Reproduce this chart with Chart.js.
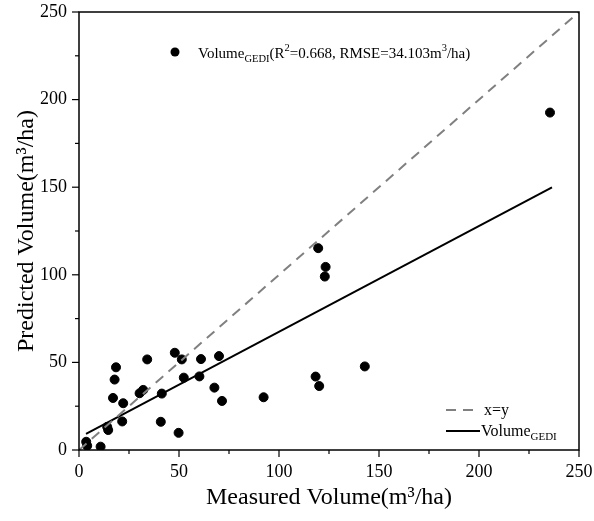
<!DOCTYPE html>
<html>
<head>
<meta charset="utf-8">
<script src="https://cdn.jsdelivr.net/npm/chart.js@4"></script>
<style>
  body { margin: 0; background: #fff; }
  #wrap { width: 594px; height: 521px; }
</style>
</head>
<body>
<div id="wrap"><canvas id="grafico"></canvas></div>
<script>
// Datos
const measured = [3.6, 4.1, 10.8, 14.1, 14.6, 17.0, 17.8, 18.5, 22.1, 21.6, 30.3, 32.1, 34.1, 41.4, 40.9, 47.9,
    51.4, 49.8, 52.4, 60.2, 61.0, 70.0, 67.7, 71.5, 92.3, 119.6, 123.3, 122.9, 142.9, 118.3, 120.1, 235.5];
const predicted = [4.7, 2.4, 1.9, 13.2, 11.4, 29.7, 40.2, 47.2, 26.7, 16.3, 32.4, 34.3, 51.7, 32.2, 16.1, 55.5,
    51.7, 9.8, 41.3, 42.0, 51.9, 53.6, 35.6, 28.0, 30.1, 115.2, 104.5, 99.0, 47.7, 41.9, 36.5, 192.6];
const fitX = [3.5, 236.5];
const fitSlope = 0.604;
const fitIntercept = 7.1;
const identityX = [0, 250];
const xTicks = [0, 50, 100, 150, 200, 250];
const yTicks = [0, 50, 100, 150, 200, 250];

const serif = "'Liberation Serif', 'Times New Roman', serif";

const puntos = measured.map((x, i) => ({ x: x, y: predicted[i] }));
const ajuste = fitX.map((x) => ({ x: x, y: fitSlope * x + fitIntercept }));
const identidad = identityX.map((x) => ({ x: x, y: x }));

// Marco, marcas de ejes y leyendas
const marco = {
    id: 'marco',
    afterDraw(chart) {
        const c = chart.ctx;
        const a = chart.chartArea;
        const sx = chart.scales.x;
        const sy = chart.scales.y;
        c.save();
        c.strokeStyle = '#000';
        c.lineWidth = 1.5;
        c.strokeRect(a.left, a.top, a.right - a.left, a.bottom - a.top);
        c.lineWidth = 1.2;
        for (let v = 0; v <= 250; v += 25) {
            const len = v % 50 === 0 ? 7 : 4;
            const px = sx.getPixelForValue(v);
            c.beginPath();
            c.moveTo(px, a.bottom);
            c.lineTo(px, a.bottom + len);
            c.stroke();
            const py = sy.getPixelForValue(v);
            c.beginPath();
            c.moveTo(a.left, py);
            c.lineTo(a.left - len, py);
            c.stroke();
        }

        // leyenda superior
        c.fillStyle = '#000';
        c.beginPath();
        c.arc(175, 52, 4.5, 0, Math.PI * 2);
        c.fill();
        c.textBaseline = 'alphabetic';
        c.textAlign = 'left';
        let x = 198;
        const base = 58;
        const partes = [
            ['Volume', 15, 0], ['GEDI', 10.5, 4], ['(R', 15, 0], ['2', 10.5, -7],
            ['=0.668, RMSE=34.103m', 15, 0], ['3', 10.5, -7], ['/ha)', 15, 0]
        ];
        partes.forEach(([t, s, dy]) => {
            c.font = s + 'px ' + serif;
            c.fillText(t, x, base + dy);
            x += c.measureText(t).width;
        });

        // leyenda inferior
        c.strokeStyle = '#808080';
        c.lineWidth = 2;
        c.setLineDash([10, 7]);
        c.beginPath();
        c.moveTo(446, 410);
        c.lineTo(476, 410);
        c.stroke();
        c.setLineDash([]);
        c.strokeStyle = '#000';
        c.beginPath();
        c.moveTo(446, 431);
        c.lineTo(480, 431);
        c.stroke();
        c.font = '16px ' + serif;
        c.fillText('x=y', 484, 415);
        c.fillText('Volume', 481, 436);
        const w = c.measureText('Volume').width;
        c.font = '11px ' + serif;
        c.fillText('GEDI', 481 + w, 440);
        c.restore();
    }
};

const ctx = document.getElementById('grafico').getContext('2d');
new Chart(ctx, {
    type: 'scatter',
    data: {
        datasets: [
            {
                label: 'x=y',
                data: identidad,
                showLine: true,
                borderColor: '#808080',
                borderWidth: 2,
                borderDash: [10, 7],
                pointRadius: 0,
            },
            {
                label: 'Volume GEDI fit',
                data: ajuste,
                showLine: true,
                borderColor: '#000',
                borderWidth: 2,
                pointRadius: 0,
            },
            {
                label: 'Volume GEDI',
                data: puntos,
                backgroundColor: '#000',
                borderColor: '#000',
                pointRadius: 4.5,
                pointHoverRadius: 4.5,
            },
        ],
    },
    options: {
        responsive: true,
        maintainAspectRatio: false,
        animation: false,
        layout: { padding: { top: 12, right: 15, left: 10, bottom: 0 } },
        plugins: {
            legend: { display: false },
            tooltip: { enabled: false },
        },
        scales: {
            x: {
                type: 'linear',
                min: 0,
                max: 250,
                afterBuildTicks: (s) => { s.ticks = xTicks.map((v) => ({ value: v })); },
                afterFit: (s) => { s.height = 71; s.paddingLeft = 0; s.paddingRight = 0; },
                grid: { display: false },
                border: { display: false },
                ticks: { color: '#000', font: { family: serif, size: 18 }, padding: 3 },
                title: {
                    display: true,
                    text: 'Measured Volume(m³/ha)',
                    color: '#000',
                    font: { family: serif, size: 24 },
                    padding: { top: 9, bottom: 9 },
                },
            },
            y: {
                type: 'linear',
                min: 0,
                max: 250,
                afterBuildTicks: (s) => { s.ticks = yTicks.map((v) => ({ value: v })); },
                afterFit: (s) => { s.width = 69; s.paddingTop = 0; s.paddingBottom = 0; },
                grid: { display: false },
                border: { display: false },
                ticks: { color: '#000', font: { family: serif, size: 18 }, padding: 4 },
                title: {
                    display: true,
                    text: 'Predicted Volume(m³/ha)',
                    color: '#000',
                    font: { family: serif, size: 24 },
                    padding: { top: 2, bottom: 2 },
                },
            },
        },
    },
    plugins: [marco],
});
</script>
</body>
</html>
